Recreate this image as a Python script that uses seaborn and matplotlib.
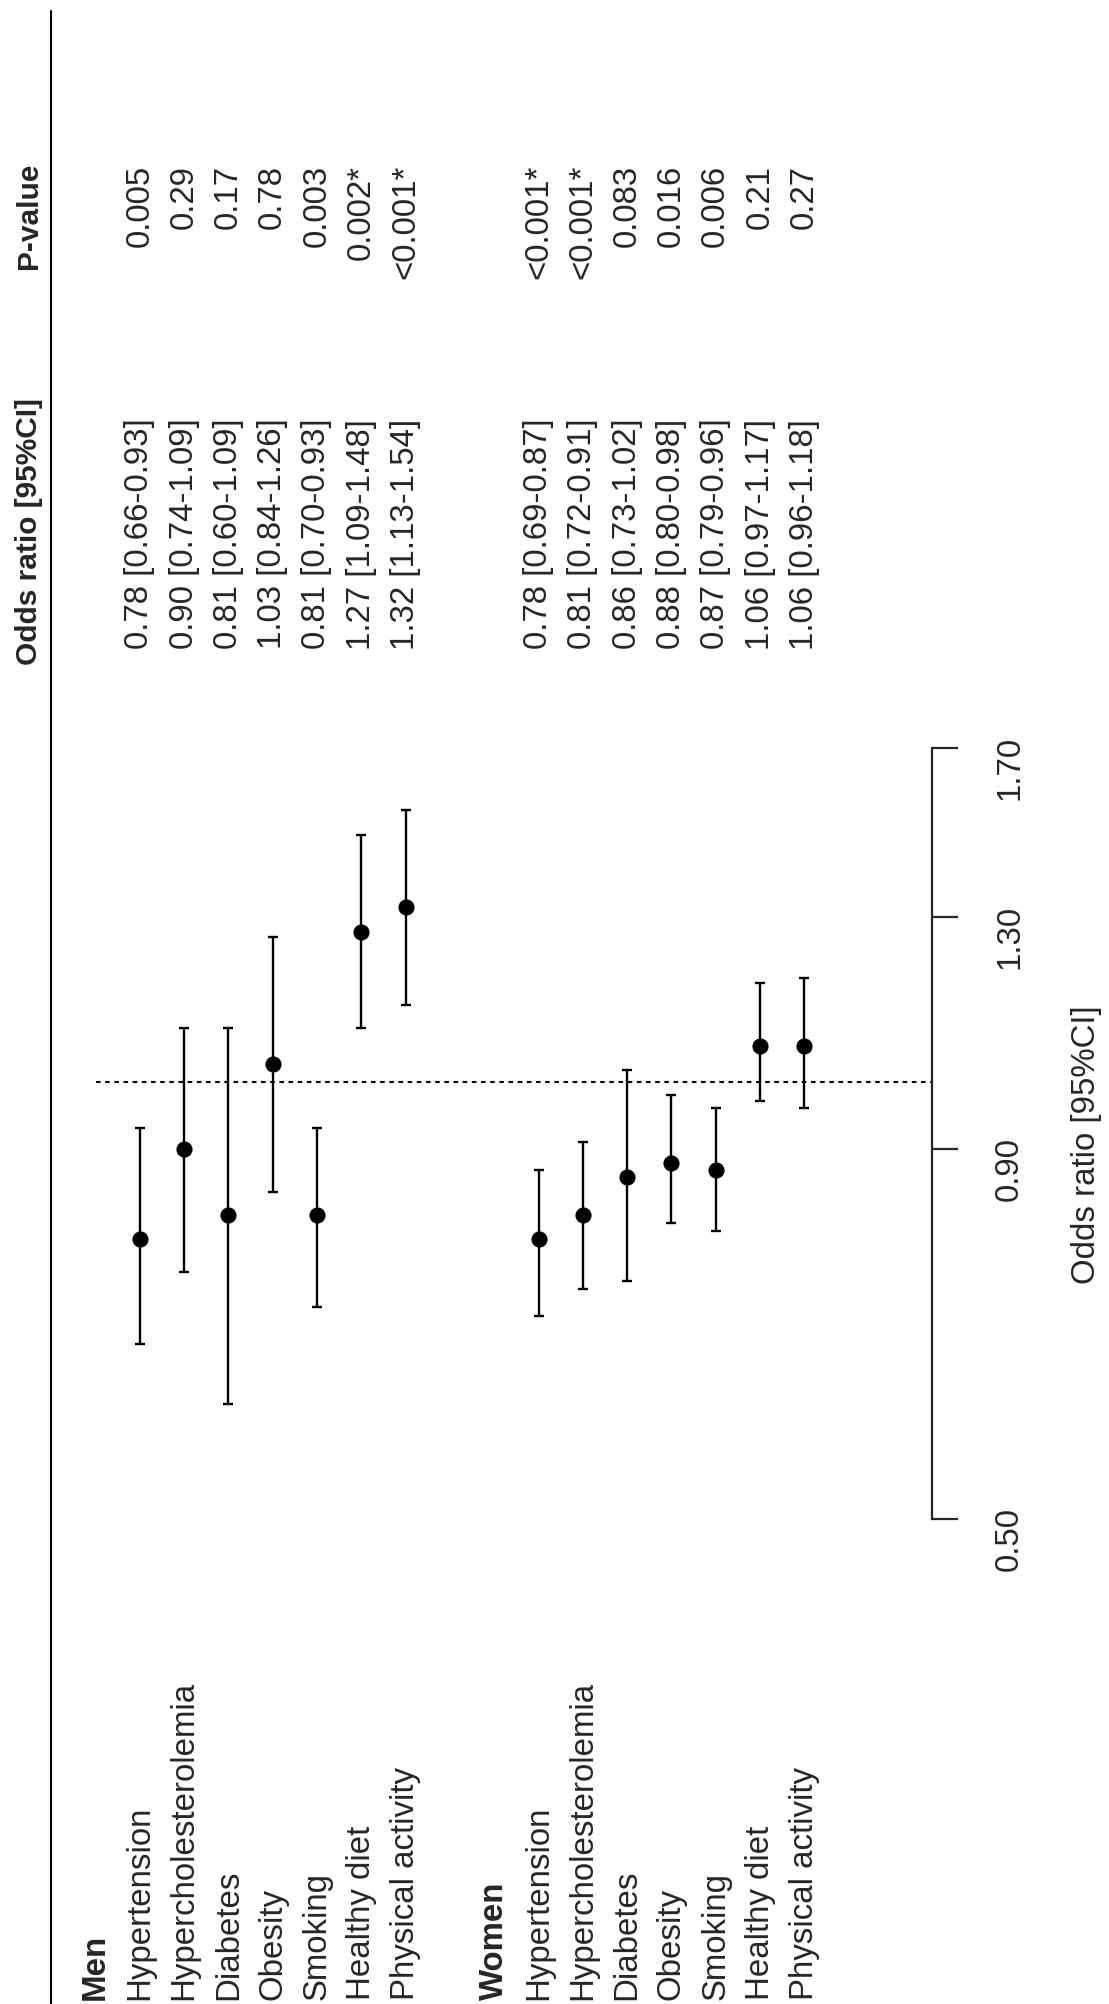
import numpy as np
import pandas as pd
import matplotlib
matplotlib.use("Agg")
import matplotlib.pyplot as plt
import matplotlib.transforms as mtransforms
from matplotlib.ticker import FixedLocator, NullLocator
import seaborn as sns

# ---- data ----
factors = ["Hypertension", "Hypercholesterolemia", "Diabetes", "Obesity",
           "Smoking", "Healthy diet", "Physical activity"]

or_men = [0.78, 0.90, 0.81, 1.03, 0.81, 1.27, 1.32]
lo_men = [0.66, 0.74, 0.60, 0.84, 0.70, 1.09, 1.13]
hi_men = [0.93, 1.09, 1.09, 1.26, 0.93, 1.48, 1.54]
p_men = ["0.005", "0.29", "0.17", "0.78", "0.003", "0.002*", "<0.001*"]

or_women = [0.78, 0.81, 0.86, 0.88, 0.87, 1.06, 1.06]
lo_women = [0.69, 0.72, 0.73, 0.80, 0.79, 0.97, 0.96]
hi_women = [0.87, 0.91, 1.02, 0.98, 0.96, 1.17, 1.18]
p_women = ["<0.001*", "<0.001*", "0.083", "0.016", "0.006", "0.21", "0.27"]

groups = ["Men", "Women"]
or_ticks = [0.50, 0.90, 1.30, 1.70]

# row slots: group header, 7 factors, blank, group header, 7 factors
rows_men = list(range(1, 8))
rows_women = list(range(10, 17))
header_rows = [0, 9]

df = pd.DataFrame({
    "row": rows_men + rows_women,
    "label": factors + factors,
    "OR": or_men + or_women,
    "lo": lo_men + lo_women,
    "hi": hi_men + hi_women,
    "p": p_men + p_women,
})
df["ci_text"] = [f"{o:.2f} [{l:.2f}-{h:.2f}]" for o, l, h in zip(df.OR, df.lo, df.hi)]

# ---- figure ----
sns.set_style("white")
plt.rcParams["font.family"] = ["Liberation Sans", "DejaVu Sans"]

W, H = 1109, 2004
fig = plt.figure(figsize=(W / 100, H / 100), dpi=100)
ax = fig.add_axes([0, 1 - 1519 / H, 1, (1519 - 748) / H])

ax.errorbar(df["row"], df["OR"], yerr=[df["OR"] - df["lo"], df["hi"] - df["OR"]],
            fmt="none", ecolor="black", elinewidth=1.7, capsize=3.8,
            capthick=1.7, clip_on=False)
sns.scatterplot(data=df, x="row", y="OR", ax=ax, color="black", s=135,
                linewidth=0, zorder=3, clip_on=False)

ax.set_yscale("log")
ax.set_ylim(or_ticks[0], or_ticks[-1])
ax.set_xlim(-95.5 / 44.3, (W - 95.5) / 44.3)
ax.axhline(1.0, xmin=96 / W, xmax=932 / W, color="black", lw=1.5,
           ls=(0, (2.2, 2.2)))

for s in ["top", "bottom", "left"]:
    ax.spines[s].set_visible(False)
ax.spines["right"].set_position(("axes", 932 / W))
ax.spines["right"].set_linewidth(1.6)
ax.set_xticks([])
ax.set_xlabel("")
ax.yaxis.tick_right()
ax.yaxis.set_major_locator(FixedLocator(or_ticks))
ax.yaxis.set_minor_locator(NullLocator())
ax.set_yticklabels([f"{t:.2f}" for t in or_ticks])
ax.tick_params(axis="y", direction="out", length=18.7, width=1.6,
               labelsize=23.8, labelrotation=90, pad=26)
ax.yaxis.set_label_position("right")
ax.set_ylabel("Odds ratio [95%CI]", fontsize=23.8, labelpad=33, rotation=90)
ax.yaxis.label.set_y(0.485)

# ---- table text ----
tr = mtransforms.blended_transform_factory(ax.transData, fig.transFigure)
fs = 23.8
for r, lab in zip(df["row"], df["label"]):
    ax.text(r, 0.002, lab, transform=tr, rotation=90, ha="center", va="bottom", fontsize=fs)
for r, g in zip(header_rows, groups):
    ax.text(r, 0.002, g, transform=tr, rotation=90, ha="center", va="bottom",
            fontsize=fs, fontweight="bold")
for r, t in zip(df["row"], df["ci_text"]):
    ax.text(r, 0.7335, t, transform=tr, rotation=90, ha="center", va="center", fontsize=fs)
for r, t in zip(df["row"], df["p"]):
    ax.text(r, 0.9177, t, transform=tr, rotation=90, ha="center", va="top", fontsize=fs)

ax.text(-1.5, 0.7345, "Odds ratio [95%CI]", transform=tr, rotation=90, ha="center",
        va="center", fontsize=21.5, fontweight="bold")
ax.text(-1.5, 0.9187, "P-value", transform=tr, rotation=90, ha="center",
        va="top", fontsize=21.5, fontweight="bold")
ax.plot([-1, -1], [0, 1 - 11 / H], transform=tr, color="black", lw=1.5, clip_on=False)

fig.savefig("out.png", dpi=100)
